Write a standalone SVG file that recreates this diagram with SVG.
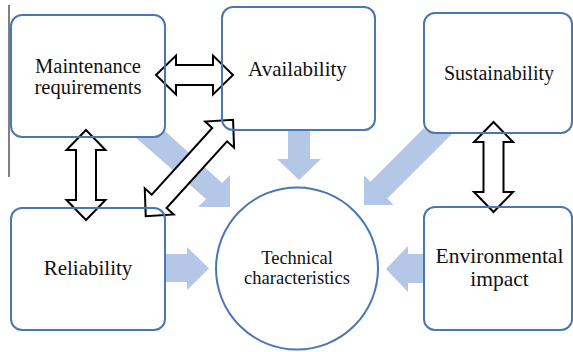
<svg xmlns="http://www.w3.org/2000/svg" width="573" height="352" viewBox="0 0 573 352">
  <style>
    .box { fill: none; stroke: #4a77b4; stroke-width: 2; }
    .flow { fill: #b4c7e7; stroke: none; }
    .dbl { fill: #ffffff; stroke: #000000; stroke-width: 2; stroke-linejoin: miter; }
    .lbl { fill: #111111; text-anchor: middle; }
  </style>
  <rect width="573" height="352" fill="#ffffff"/>
  <!-- margin rule on the left -->
  <line x1="9" y1="5" x2="9" y2="177" stroke="#555555" stroke-width="1.5"/>

  <g id="connectors">
    <!-- light blue block arrows into the centre -->
    <polygon class="flow" points="135,137 156,137 162,135 165,131 222,183 230,175 230,207 198,207 206,199"/>
    <polygon class="flow" points="288,131 310,131 310,159 321,159 299,180 277,159 288,159"/>
    <polygon class="flow" points="453,133 433,133 427,131 424,128 370.4,181.7 364,175.3 364,205 393.7,205 387.3,198.6"/>
    <polygon class="flow" points="165,254 187,254 187,247 209,268.5 187,290 187,282 165,282"/>
    <polygon class="flow" points="424,254 408,254 408,246 386,269 408,292 408,283 424,283"/>
    <!-- outlined two-way arrows between factors -->
    <path class="dbl" d="M156 75 L176 55.5 L176 65 L213 65 L213 55.5 L233 75 L213 94.5 L213 85 L176 85 L176 94.5 Z"/>
    <path class="dbl" d="M86 130 L105.5 150 L96 150 L96 200 L105.5 200 L86 220 L66.5 200 L76 200 L76 150 L66.5 150 Z"/>
    <path class="dbl" d="M493.5 122 L513 142 L503.5 142 L503.5 192 L513 192 L493.5 212 L474 192 L483.5 192 L483.5 142 L474 142 Z"/>
    <path class="dbl" transform="translate(189.4 168) rotate(-47.8)" d="M-65 0 L-45 -19.5 L-45 -10 L45 -10 L45 -19.5 L65 0 L45 19.5 L45 10 L-45 10 L-45 19.5 Z"/>
  </g>

  <g font-family="'Liberation Serif', 'DejaVu Serif', serif">
    <g id="maintenance">
      <rect class="box" x="11" y="15" width="154" height="122" rx="11"/>
      <text class="lbl" font-size="20.5" x="88" y="72.5">Maintenance</text>
      <text class="lbl" font-size="20.5" x="88" y="93.5">requirements</text>
    </g>
    <g id="availability">
      <rect class="box" x="222" y="7" width="153" height="123" rx="11"/>
      <text class="lbl" font-size="21" x="297.5" y="76">Availability</text>
    </g>
    <g id="sustainability">
      <rect class="box" x="424" y="13" width="148" height="120" rx="11"/>
      <text class="lbl" font-size="20" x="499" y="80">Sustainability</text>
    </g>
    <g id="reliability">
      <rect class="box" x="11" y="208" width="154" height="122" rx="11"/>
      <text class="lbl" font-size="21" x="88" y="275">Reliability</text>
    </g>
    <g id="technical">
      <circle class="box" cx="297" cy="268.5" r="81"/>
      <text class="lbl" font-size="18.5" x="297" y="264">Technical</text>
      <text class="lbl" font-size="18.5" x="297" y="284">characteristics</text>
    </g>
    <g id="environmental">
      <rect class="box" x="424" y="207" width="148" height="123" rx="11"/>
      <text class="lbl" font-size="21.5" x="499.5" y="263">Environmental</text>
      <text class="lbl" font-size="21.5" x="499.5" y="286">impact</text>
    </g>
  </g>
</svg>
